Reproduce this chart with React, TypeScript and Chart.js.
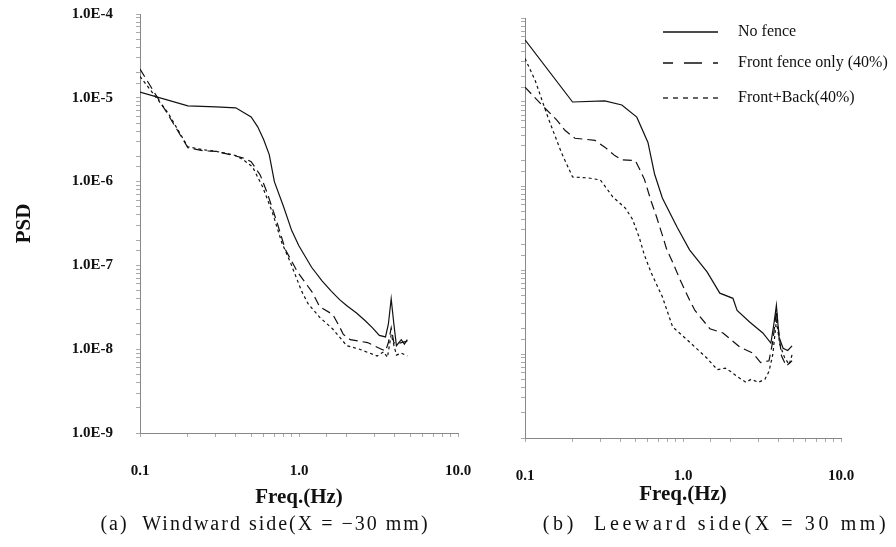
import { useEffect, useRef } from "react";
import { Chart, registerables } from "chart.js";

Chart.register(...registerables);

// ---------- data ----------
const seriesLabels = ["No fence", "Front fence only (40%)", "Front+Back(40%)"];

const xTickValues = [0.1, 1, 10];
const xTickLabels = ["0.1", "1.0", "10.0"];
const yTickValues = [1e-9, 1e-8, 1e-7, 1e-6, 1e-5, 1e-4];
const yTickLabels = ["1.0E-9", "1.0E-8", "1.0E-7", "1.0E-6", "1.0E-5", "1.0E-4"];

// (a) Windward side
const windNoFenceFreq = [0.1, 0.2, 0.3, 0.4, 0.5, 0.55, 0.6, 0.65, 0.7, 0.8, 0.9, 1.0, 1.2, 1.4, 1.6, 1.8, 2.0, 2.3, 2.6, 2.9, 3.2, 3.5, 3.65, 3.8, 3.95, 4.1, 4.4, 4.6, 4.8];
const windNoFencePSD = [1.17e-5, 8.0e-6, 7.8e-6, 7.6e-6, 5.9e-6, 4.5e-6, 3.16e-6, 2.1e-6, 1.0e-6, 5.0e-7, 2.6e-7, 1.7e-7, 9.5e-8, 6.5e-8, 4.9e-8, 3.9e-8, 3.3e-8, 2.7e-8, 2.2e-8, 1.8e-8, 1.46e-8, 1.4e-8, 2.0e-8, 4.0e-8, 2.0e-8, 1.1e-8, 1.3e-8, 1.15e-8, 1.3e-8];

const windFrontFreq = [0.1, 0.15, 0.2, 0.25, 0.3, 0.4, 0.45, 0.5, 0.57, 0.63, 0.73, 0.82, 0.98, 1.21, 1.35, 1.63, 1.8, 1.9, 2.1, 2.7, 3.3, 3.5, 3.65, 3.8, 3.95, 4.1, 4.4, 4.8];
const windFrontPSD = [2.2e-5, 6.3e-6, 2.54e-6, 2.33e-6, 2.3e-6, 2.02e-6, 1.9e-6, 1.73e-6, 1.2e-6, 7.4e-7, 3.2e-7, 1.55e-7, 8.3e-8, 4.8e-8, 3.2e-8, 2.6e-8, 1.85e-8, 1.5e-8, 1.3e-8, 1.2e-8, 1.0e-8, 9.5e-9, 1.2e-8, 1.8e-8, 1.2e-8, 1.15e-8, 1.2e-8, 1.25e-8];

const windBothFreq = [0.1, 0.15, 0.2, 0.25, 0.3, 0.4, 0.45, 0.51, 0.59, 0.68, 0.78, 0.88, 1.04, 1.14, 1.35, 1.63, 2.0, 2.4, 3.1, 3.4, 3.6, 3.8, 4.1, 4.4, 4.8];
const windBothPSD = [1.8e-5, 6.6e-6, 2.6e-6, 2.4e-6, 2.3e-6, 2.05e-6, 1.8e-6, 1.5e-6, 8.7e-7, 4.3e-7, 1.86e-7, 1.1e-7, 4.9e-8, 3.5e-8, 2.4e-8, 1.74e-8, 1.1e-8, 1.0e-8, 8.3e-9, 9.3e-9, 8.0e-9, 1.5e-8, 8.5e-9, 9.0e-9, 8.3e-9];

// (b) Leeward side
const leeNoFenceFreq = [0.1, 0.2, 0.32, 0.41, 0.51, 0.6, 0.66, 0.74, 0.92, 1.1, 1.42, 1.71, 2.07, 2.2, 2.64, 3.2, 3.6, 3.75, 3.9, 4.05, 4.3, 4.6, 4.9];
const leeNoFencePSD = [5.5e-5, 1.0e-5, 1.03e-5, 9.2e-6, 6.6e-6, 3.3e-6, 1.4e-6, 7.2e-7, 3.2e-7, 1.74e-7, 9.5e-8, 5.3e-8, 4.6e-8, 3.3e-8, 2.4e-8, 1.78e-8, 1.35e-8, 2.2e-8, 3.8e-8, 1.6e-8, 1.17e-8, 1.1e-8, 1.25e-8];

const leeFrontFreq = [0.1, 0.128, 0.159, 0.179, 0.207, 0.277, 0.32, 0.37, 0.41, 0.5, 0.53, 0.57, 0.63, 0.68, 0.74, 0.79, 0.85, 0.96, 1.1, 1.19, 1.48, 1.79, 2.3, 2.78, 3.1, 3.5, 3.7, 3.9, 4.2, 4.5, 4.9];
const leeFrontPSD = [1.5e-5, 9.2e-6, 6.1e-6, 4.6e-6, 3.7e-6, 3.5e-6, 2.9e-6, 2.3e-6, 2.05e-6, 2.0e-6, 1.6e-6, 1.2e-6, 6.5e-7, 4.3e-7, 2.6e-7, 1.74e-7, 1.3e-7, 7.6e-8, 4.4e-8, 3.3e-8, 2.0e-8, 1.78e-8, 1.2e-8, 1.02e-8, 7.9e-9, 8.3e-9, 1.4e-8, 3.3e-8, 9.5e-9, 7.2e-9, 8.3e-9];

const leeBothFreq = [0.1, 0.116, 0.14, 0.17, 0.2, 0.25, 0.3, 0.36, 0.43, 0.48, 0.53, 0.57, 0.63, 0.74, 0.86, 1.06, 1.42, 1.65, 1.85, 2.0, 2.2, 2.5, 2.7, 3.0, 3.3, 3.5, 3.7, 3.9, 4.1, 4.4, 4.7, 4.9];
const leeBothPSD = [3.3e-5, 1.8e-5, 6.5e-6, 2.5e-6, 1.28e-6, 1.25e-6, 1.18e-6, 7.4e-7, 5.5e-7, 4.0e-7, 2.4e-7, 1.5e-7, 9.2e-8, 4.8e-8, 2.1e-8, 1.48e-8, 8.9e-9, 6.5e-9, 6.8e-9, 6.2e-9, 5.4e-9, 4.6e-9, 5.0e-9, 4.6e-9, 5.0e-9, 6.2e-9, 9.8e-9, 2.5e-8, 1.3e-8, 9.0e-9, 7.5e-9, 9.8e-9];

// ---------- styles ----------
const FONT = '"Liberation Serif", "Times New Roman", serif';
const INK = "#111";
const chartDash = [[], [9, 5], [3, 3]];
const legendDash = [[], [18, 11], [5, 5]];
const legendDashOffset = [0, 8, 0];

function pts(f: number[], v: number[]) {
  return f.map((x, i) => ({ x, y: v[i] }));
}

function labelFor(value: number, vals: number[], labels: string[]) {
  for (let i = 0; i < vals.length; i++) {
    if (Math.abs(Math.log10(value) - Math.log10(vals[i])) < 1e-6) return labels[i];
  }
  return "";
}

function clearScalePadding(s: any) {
  s.paddingTop = 0;
  s.paddingBottom = 0;
  s.paddingLeft = 0;
  s.paddingRight = 0;
}

const legendPlugin = {
  id: "customLegend",
  afterDraw(chart: any) {
    const ctx = chart.ctx as CanvasRenderingContext2D;
    const rows = [32, 63, 98];
    chart.data.datasets.forEach((ds: any, i: number) => {
      ctx.save();
      ctx.strokeStyle = INK;
      ctx.lineWidth = 1.3;
      ctx.setLineDash(legendDash[i]);
      ctx.lineDashOffset = legendDashOffset[i];
      ctx.beginPath();
      ctx.moveTo(183, rows[i]);
      ctx.lineTo(238, rows[i]);
      ctx.stroke();
      ctx.setLineDash([]);
      ctx.fillStyle = INK;
      ctx.font = `16px ${FONT}`;
      ctx.textBaseline = "middle";
      ctx.textAlign = "left";
      ctx.fillText(ds.label, 258, rows[i]);
      ctx.restore();
    });
  },
};

type PanelOpts = {
  series: { f: number[]; v: number[] }[];
  showYLabels: boolean;
  yWidth: number;
  xHeight: number;
  padding: { left: number; top: number; right: number; bottom: number };
  xTitlePadBottom: number;
  legend: boolean;
};

function makeConfig(o: PanelOpts): any {
  return {
    type: "line",
    data: {
      datasets: o.series.map((s, i) => ({
        label: seriesLabels[i],
        data: pts(s.f, s.v),
        borderColor: INK,
        borderWidth: 1.2,
        borderDash: chartDash[i],
        pointRadius: 0,
        fill: false,
        tension: 0,
      })),
    },
    options: {
      animation: false,
      responsive: false,
      devicePixelRatio: 1,
      layout: { padding: o.padding, autoPadding: false },
      plugins: { legend: { display: false }, tooltip: { enabled: false } },
      scales: {
        x: {
          type: "logarithmic",
          min: 0.1,
          max: 10,
          afterFit: (s: any) => {
            s.height = o.xHeight;
            clearScalePadding(s);
          },
          grid: { display: true, drawOnChartArea: false, drawTicks: true, tickLength: 4, color: "#aaa" },
          border: { display: true, color: "#888", dash: [1, 2], width: 1 },
          ticks: {
            autoSkip: false,
            maxRotation: 0,
            padding: 25,
            color: INK,
            font: { family: FONT, size: 15, weight: "bold" },
            callback: (v: any) => labelFor(Number(v), xTickValues, xTickLabels),
          },
          title: {
            display: true,
            text: "Freq.(Hz)",
            color: INK,
            font: { family: FONT, size: 21, weight: "bold" },
            padding: { top: 0, bottom: o.xTitlePadBottom },
          },
        },
        y: {
          type: "logarithmic",
          min: 1e-9,
          max: 1e-4,
          afterFit: (s: any) => {
            s.width = o.yWidth;
            clearScalePadding(s);
          },
          grid: { display: true, drawOnChartArea: false, drawTicks: true, tickLength: 4, color: "#aaa" },
          border: { display: true, color: "#888", dash: [1, 2], width: 1 },
          ticks: {
            autoSkip: false,
            padding: 23,
            color: INK,
            font: { family: FONT, size: 15, weight: "bold" },
            callback: (v: any) => (o.showYLabels ? labelFor(Number(v), yTickValues, yTickLabels) : ""),
          },
          title: {
            display: o.showYLabels,
            text: "PSD",
            color: INK,
            font: { family: FONT, size: 21, weight: "bold" },
            padding: { top: 12, bottom: 0 },
          },
        },
      },
    },
    plugins: o.legend ? [legendPlugin] : [],
  };
}

function Panel(props: { opts: PanelOpts; left: number; width: number }) {
  const ref = useRef<HTMLCanvasElement | null>(null);
  useEffect(() => {
    if (!ref.current) return;
    const chart = new Chart(ref.current, makeConfig(props.opts));
    return () => chart.destroy();
  }, []);
  return (
    <canvas
      ref={ref}
      width={props.width}
      height={547}
      style={{ position: "absolute", left: props.left, top: 0, width: props.width, height: 547 }}
    />
  );
}

const leftOpts: PanelOpts = {
  series: [
    { f: windNoFenceFreq, v: windNoFencePSD },
    { f: windFrontFreq, v: windFrontPSD },
    { f: windBothFreq, v: windBothPSD },
  ],
  showYLabels: true,
  yWidth: 140,
  xHeight: 80,
  padding: { left: 0, top: 14, right: 22, bottom: 34 },
  xTitlePadBottom: 3,
  legend: false,
};

const rightOpts: PanelOpts = {
  series: [
    { f: leeNoFenceFreq, v: leeNoFencePSD },
    { f: leeFrontFreq, v: leeFrontPSD },
    { f: leeBothFreq, v: leeBothPSD },
  ],
  showYLabels: false,
  yWidth: 45,
  xHeight: 70,
  padding: { left: 0, top: 18, right: 55, bottom: 39 },
  xTitlePadBottom: 1,
  legend: true,
};

const captionStyle: any = {
  position: "absolute",
  top: 511,
  fontFamily: FONT,
  fontSize: 20,
  lineHeight: "24px",
  color: INK,
  textAlign: "center",
  whiteSpace: "pre",
};

export default function App() {
  return (
    <div style={{ position: "absolute", left: 0, top: 0, width: 896, height: 547, background: "#fff", overflow: "hidden" }}>
      <Panel opts={leftOpts} left={0} width={480} />
      <Panel opts={rightOpts} left={480} width={416} />
      <div style={{ ...captionStyle, left: 0, width: 530, letterSpacing: "2px" }}>{"(a)  Windward side(X = −30 mm)"}</div>
      <div style={{ ...captionStyle, left: 530, width: 372, letterSpacing: "3.6px" }}>{"(b)  Leeward side(X = 30 mm)"}</div>
    </div>
  );
}
